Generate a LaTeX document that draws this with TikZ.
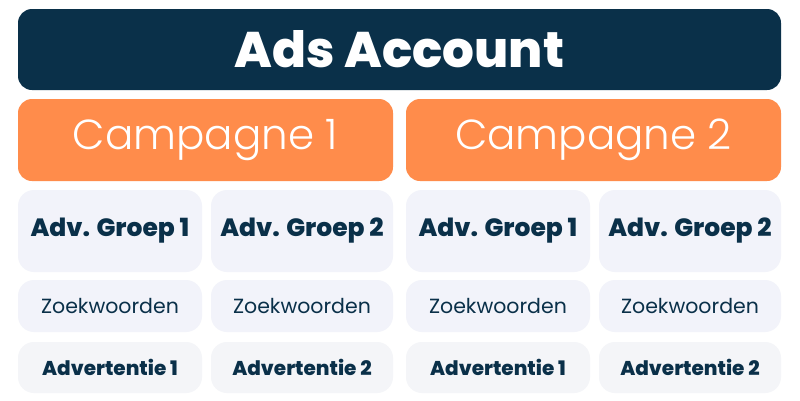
\documentclass[tikz,border=0pt]{standalone}
\usepackage{fontspec}
\setmainfont{Poppins}
\newfontfamily\heavyf{Poppins ExtraBold}
\newfontfamily\semif{Poppins SemiBold}
\newfontfamily\lightf{Poppins Light}
\definecolor{navy}{HTML}{0A3049}
\definecolor{orng}{HTML}{FF8C4B}
\definecolor{pale}{HTML}{F2F3FA}
\definecolor{paler}{HTML}{F4F5F8}
\begin{document}
\begin{tikzpicture}[x=1pt,y=-1pt,
  box/.style={rectangle,inner sep=0pt,anchor=center},
  top/.style={box,fill=navy,rounded corners=14pt,text=white,font=\fontsize{50}{54}\heavyf},
  camp/.style={box,fill=orng,rounded corners=14pt,text=white,font=\fontsize{42}{46}\lightf},
  grp/.style={box,fill=pale,rounded corners=16pt,text=navy,font=\fontsize{25}{28}\heavyf},
  kw/.style={box,fill=pale,rounded corners=16pt,text=navy,font=\fontsize{20.5}{22}\selectfont},
  adv/.style={box,fill=paler,rounded corners=16pt,text=navy,font=\fontsize{20}{22}\heavyf}]
\useasboundingbox (0,0) rectangle (800,400);
\fill[white] (0,0) rectangle (800,400);
\node[top,minimum width=763pt,minimum height=81pt] (acc) at (399.5,49.5) {Ads Account};
\node[camp,minimum width=375pt,minimum height=82pt] (c1) at (205.5,140) {Campagne 1};
\node[camp,minimum width=375pt,minimum height=82pt] (c2) at (593.5,140) {Campagne 2};
\node[grp,minimum width=184pt,minimum height=82pt] (g1) at (110,231) {Adv. Groep 1};
\node[grp,minimum width=182pt,minimum height=82pt] (g2) at (302,231) {Adv. Groep 2};
\node[grp,minimum width=184pt,minimum height=82pt] (g3) at (498,231) {Adv. Groep 1};
\node[grp,minimum width=182pt,minimum height=82pt] (g4) at (690,231) {Adv. Groep 2};
\node[kw,minimum width=184pt,minimum height=52pt] (k1) at (110,306) {Zoekwoorden};
\node[kw,minimum width=182pt,minimum height=52pt] (k2) at (302,306) {Zoekwoorden};
\node[kw,minimum width=184pt,minimum height=52pt] (k3) at (498,306) {Zoekwoorden};
\node[kw,minimum width=182pt,minimum height=52pt] (k4) at (690,306) {Zoekwoorden};
\node[adv,minimum width=184pt,minimum height=51pt] (a1) at (110,367.5) {Advertentie 1};
\node[adv,minimum width=182pt,minimum height=51pt] (a2) at (302,367.5) {Advertentie 2};
\node[adv,minimum width=184pt,minimum height=51pt] (a3) at (498,367.5) {Advertentie 1};
\node[adv,minimum width=182pt,minimum height=51pt] (a4) at (690,367.5) {Advertentie 2};
\end{tikzpicture}
\end{document}
